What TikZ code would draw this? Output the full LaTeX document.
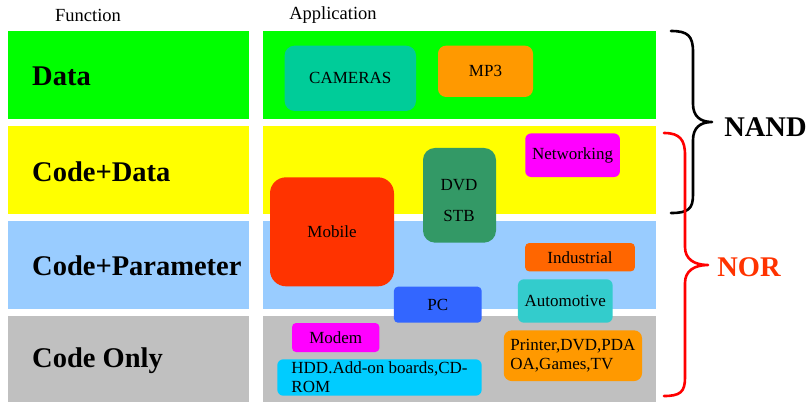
\documentclass[tikz,border=0pt]{standalone}
\usepackage{fontspec}
\setmainfont{Liberation Serif}
\definecolor{cgreen}{HTML}{00FF00}
\definecolor{cyellow}{HTML}{FFFF00}
\definecolor{cblue}{HTML}{99CCFF}
\definecolor{cgray}{HTML}{C0C0C0}
\definecolor{ccam}{HTML}{00CC99}
\definecolor{corange}{HTML}{FF9900}
\definecolor{cmagenta}{HTML}{FF00FF}
\definecolor{cdvd}{HTML}{339966}
\definecolor{cmobile}{HTML}{FF3300}
\definecolor{cind}{HTML}{FF6600}
\definecolor{cpc}{HTML}{3366FF}
\definecolor{cauto}{HTML}{33CCCC}
\definecolor{chdd}{HTML}{00CCFF}
\definecolor{cnorbrace}{HTML}{FF0000}
\definecolor{cnortext}{HTML}{FF3300}
\newcommand\appfont{\fontsize{17}{19}\selectfont}
\newcommand\bandfont{\fontsize{28.5}{32}\selectfont\bfseries}
\newcommand\headfont{\fontsize{18.5}{21}\selectfont}
\begin{document}
\begin{tikzpicture}[x=1pt,y=-1pt,
  band/.style={draw=none,inner sep=0pt,minimum height=88pt},
  leftband/.style={band,minimum width=241pt},
  rightband/.style={band,minimum width=393pt},
  bandlabel/.style={anchor=west,inner sep=0pt,font=\bandfont},
  headlabel/.style={inner sep=0pt,font=\headfont},
  appbox/.style={draw=none,inner sep=0pt,rounded corners=#1,font=\appfont,align=left,text=black},
  bracestyle/.style={line width=2.6pt,line cap=round,line join=round}
]
\useasboundingbox (0,0) rectangle (812,402);

% headers
\node[headlabel] (hfun) at (88,15) {Function};
\node[headlabel] (happ) at (333,15) {Application};

% left bands
\node[leftband,fill=cgreen]  (lb1) at (128.5,75) {};
\node[leftband,fill=cyellow] (lb2) at (128.5,170) {};
\node[leftband,fill=cblue]   (lb3) at (128.5,265) {};
\node[leftband,fill=cgray,minimum height=86pt] (lb4) at (128.5,359) {};

% right bands
\node[rightband,fill=cgreen]  (rb1) at (459.5,75) {};
\node[rightband,fill=cyellow] (rb2) at (459.5,170) {};
\node[rightband,fill=cblue]   (rb3) at (459.5,265) {};
\node[rightband,fill=cgray,minimum height=86pt] (rb4) at (459.5,359) {};

% band labels
\node[bandlabel] (t1) at (32,76) {Data};
\node[bandlabel] (t2) at (32,172) {Code+Data};
\node[bandlabel] (t3) at (32,266) {Code+Parameter};
\node[bandlabel] (t4) at (32,361) {Code Only};

% application boxes
\node[appbox=10pt,fill=ccam,minimum width=131.4pt,minimum height=65.3pt] (cam) at (350.3,78.3) {CAMERAS};
\node[appbox=8pt,fill=corange,minimum width=95pt,minimum height=51.3pt] (mp3) at (485.5,71.3) {MP3};
\node[appbox=6pt,fill=cmagenta,minimum width=94.7pt,minimum height=43.7pt] (net) at (572.6,155.2) {Networking};
\node[appbox=12pt,fill=cdvd,minimum width=73pt,minimum height=94.7pt] (dvd) at (459.5,195.3) {};
\node[inner sep=0pt,font=\appfont,align=center] (dvdtext) at (459,201) {DVD\\[12pt]STB};
\node[appbox=16pt,fill=cmobile,minimum width=124pt,minimum height=109pt] (mob) at (332,231.8) {Mobile};
\node[appbox=4pt,fill=cind,minimum width=109.7pt,minimum height=28.3pt] (ind) at (580,257.2) {Industrial};
\node[appbox=4pt,fill=cpc,minimum width=87.7pt,minimum height=36pt] (pc) at (437.8,304.7) {PC};
\node[appbox=6pt,fill=cauto,minimum width=94.7pt,minimum height=43.4pt] (aut) at (565.3,301) {Automotive};
\node[appbox=4pt,fill=cmagenta,minimum width=87.3pt,minimum height=29pt] (mod) at (335.7,337.5) {Modem};
\node[appbox=6pt,fill=chdd,minimum width=204.4pt,minimum height=36.4pt] (hdd) at (379.5,377.5) {HDD.Add-on boards,CD-\\ROM};
\node[appbox=8pt,fill=corange,minimum width=138.3pt,minimum height=50.7pt] (prn) at (572.9,355.7) {Printer,DVD,PDA\\OA,Games,TV};

% NAND brace
\draw[bracestyle,black] (671,31) .. controls (688,31) and (693,36) .. (693,52)
  -- (693,104) .. controls (693,116) and (700,122) .. (712,122)
  .. controls (700,122) and (693,128) .. (693,140)
  -- (693,195) .. controls (693,209) and (688,213) .. (671,213);
\node[inner sep=0pt,font=\fontsize{28.5}{32}\selectfont\bfseries] (nand) at (765.5,127) {NAND};

% NOR brace
\draw[bracestyle,cnorbrace] (664,133) .. controls (680,133) and (685,140) .. (685,155)
  -- (685,247) .. controls (685,259) and (694,265) .. (708,265)
  .. controls (694,265) and (685,271) .. (685,283)
  -- (685,378) .. controls (685,392) and (680,396) .. (664,396);
\node[inner sep=0pt,text=cnortext,font=\fontsize{28.5}{32}\selectfont\bfseries] (nor) at (749,267) {NOR};
\end{tikzpicture}
\end{document}
